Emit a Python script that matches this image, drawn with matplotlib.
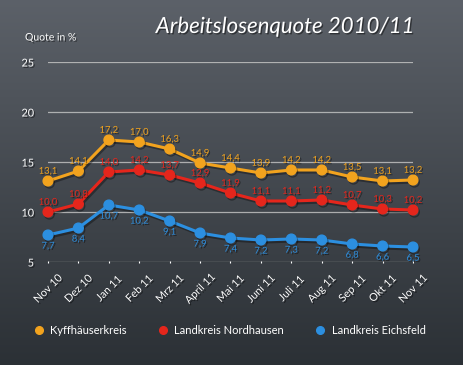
import numpy as np
import matplotlib
matplotlib.use('Agg')
import matplotlib.pyplot as plt
import matplotlib.patheffects as pe
from matplotlib.lines import Line2D

plt.rcParams['font.family'] = ['Lato', 'DejaVu Sans']

months = ['Nov 10', 'Dez 10', 'Jan 11', 'Feb 11', 'Mrz 11', 'April 11', 'Mai 11',
          'Juni 11', 'Juli 11', 'Aug 11', 'Sep 11', 'Okt 11', 'Nov 11']
kyff = [13.1, 14.1, 17.2, 17.0, 16.3, 14.9, 14.4, 13.9, 14.2, 14.2, 13.5, 13.1, 13.2]
nord = [10.0, 10.8, 14.0, 14.2, 13.7, 12.9, 11.9, 11.1, 11.1, 11.2, 10.7, 10.3, 10.2]
eichs = [7.7, 8.4, 10.7, 10.2, 9.1, 7.9, 7.4, 7.2, 7.3, 7.2, 6.8, 6.6, 6.5]
names = ['Kyffhäuserkreis', 'Landkreis Nordhausen', 'Landkreis Eichsfeld']
colors = ['#f2a31e', '#e5261c', '#2c8fe0']
yticks = [5, 10, 15, 20, 25]

fig = plt.figure(figsize=(4.64, 3.65), dpi=100)

# chalkboard-like background
bg = fig.add_axes([0, 0, 1, 1])
grad = np.linspace(0, 1, 256).reshape(-1, 1)
top = np.array([0.36, 0.38, 0.41])
bot = np.array([0.17, 0.19, 0.21])
img = top[None, None, :] * (1 - grad[:, :, None]) + bot[None, None, :] * grad[:, :, None]
bg.imshow(img, aspect='auto', extent=[0, 1, 0, 1])
bg.axis('off')

shadow = [pe.withSimplePatchShadow(offset=(1, -1), shadow_rgbFace='black', alpha=0.45)]
line_shadow = [pe.SimpleLineShadow(offset=(1, -1.5), shadow_color='black', alpha=0.35),
               pe.Normal()]

ax = fig.add_axes([48 / 464, 1 - 262 / 365, 365 / 464, 200 / 365])
ax.set_facecolor('none')
x = np.arange(len(months))
series = [kyff, nord, eichs]
for vals, col, name, off in zip(series, colors, names, [7, 7, -8]):
    ax.plot(x, vals, color=col, lw=2.2, marker='o', ms=7, clip_on=False, zorder=3,
            path_effects=line_shadow)
    for xi, v in zip(x, vals):
        ax.annotate(f'{v:.1f}'.replace('.', ','), (xi, v), xytext=(0, off),
                    textcoords='offset points', ha='center', va='center',
                    color=col, fontsize=6.8, path_effects=shadow, zorder=4)

ax.set_xlim(0, len(months) - 1)
ax.set_ylim(5, 25)
ax.set_yticks(yticks)
ax.grid(axis='y', color='#c8c8c8', lw=0.9, alpha=0.8)
for s in ax.spines.values():
    s.set_visible(False)
ax.set_xticks(x)
ax.set_xticklabels(months, rotation=45, ha='center', va='center',
                   rotation_mode='anchor')
ax.tick_params(axis='x', colors='white', length=2, direction='inout', pad=18,
               labelsize=7.8)
ax.tick_params(axis='y', colors='white', length=0, pad=10, labelsize=7.8)
for lab in ax.get_xticklabels() + ax.get_yticklabels():
    lab.set_path_effects(shadow)

fig.text(25 / 464, 1 - 38 / 365, 'Quote in %', color='white', fontsize=7.5,
         va='center', path_effects=shadow)
fig.text(285 / 464, 1 - 27 / 365, 'Arbeitslosenquote 2010/11', color='white',
         fontsize=16, style='italic', ha='center', va='center', path_effects=shadow)

handles = [Line2D([], [], color=c, marker='o', ls='none', ms=5.5) for c in colors]
leg = fig.legend(handles, names, loc='center left', ncol=3,
                 bbox_to_anchor=(22 / 464, 1 - 330 / 365), frameon=False,
                 fontsize=8, handletextpad=0.4, columnspacing=2.7,
                 handlelength=1.2, labelcolor='white')

fig.savefig('out.png', dpi=100)
